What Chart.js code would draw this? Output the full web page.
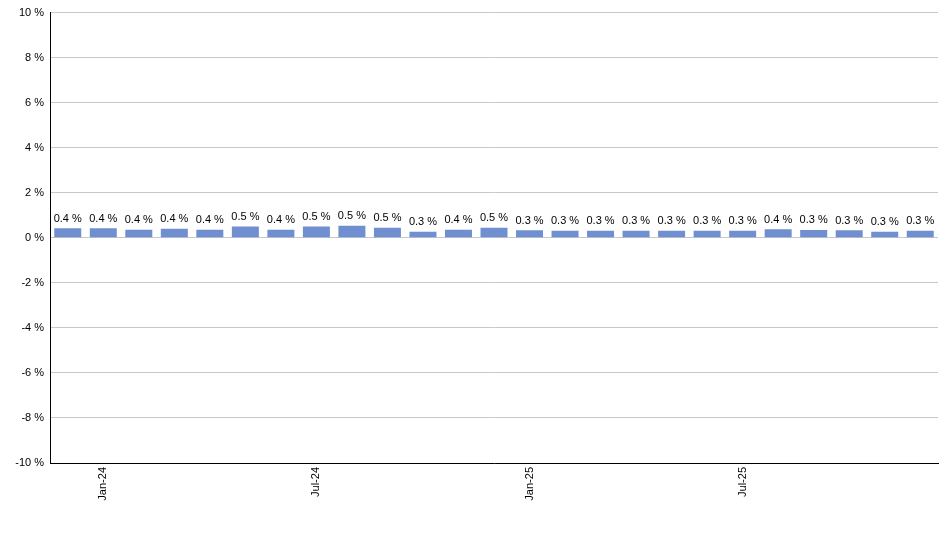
<!DOCTYPE html>
<html>
<head>
<meta charset="utf-8">
<script src="https://cdn.jsdelivr.net/npm/chart.js@4"></script>
<style>
  html, body { margin: 0; padding: 0; background: #fff; }
  #wrap { width: 940px; height: 550px; }
</style>
</head>
<body>
<div id="wrap"><canvas id="chart"></canvas></div>
<script>
const months = ['Dec-23', 'Jan-24', 'Feb-24', 'Mar-24', 'Apr-24', 'May-24', 'Jun-24', 'Jul-24', 'Aug-24', 'Sep-24', 'Oct-24', 'Nov-24', 'Dec-24',
    'Jan-25', 'Feb-25', 'Mar-25', 'Apr-25', 'May-25', 'Jun-25', 'Jul-25', 'Aug-25', 'Sep-25', 'Oct-25', 'Nov-25', 'Dec-25'];
const values = [0.42, 0.42, 0.36, 0.40, 0.36, 0.50, 0.36, 0.50, 0.54, 0.45, 0.27, 0.36, 0.45,
    0.34, 0.31, 0.31, 0.31, 0.31, 0.31, 0.31, 0.38, 0.35, 0.34, 0.27, 0.31];
const shownTicks = ['Jan-24', 'Jul-24', 'Jan-25', 'Jul-25'];

const barLabels = {
    id: 'barLabels',
    afterDatasetsDraw(chart) {
        const ctx = chart.ctx;
        ctx.save();
        ctx.font = '11px Arial, "Liberation Sans"';
        ctx.fillStyle = '#000';
        ctx.textAlign = 'center';
        ctx.textBaseline = 'bottom';
        chart.getDatasetMeta(0).data.forEach((bar, i) => {
            ctx.fillText(values[i].toFixed(1) + ' %', bar.x, bar.y - 4);
        });
        ctx.restore();
    }
};

function barGradient(c) {
    const el = c.element;
    if (!el || el.x === undefined || !el.width) return '#6f8fd0';
    const x0 = el.x - el.width / 2, x1 = el.x + el.width / 2;
    const g = c.chart.ctx.createLinearGradient(x0, 0, x1, 0);
    g.addColorStop(0, '#7f9fe0');
    g.addColorStop(0.25, '#a8c2f2');
    g.addColorStop(1, '#2c3a58');
    return g;
}

new Chart(document.getElementById('chart'), {
    type: 'bar',
    data: {
        labels: months,
        datasets: [{
            data: values,
            backgroundColor: barGradient,
            barPercentage: 0.76,
            categoryPercentage: 1
        }]
    },
    options: {
        responsive: true,
        maintainAspectRatio: false,
        animation: false,
        layout: { padding: { top: 9, right: 2 } },
        plugins: { legend: { display: false }, tooltip: { enabled: false } },
        scales: {
            x: {
                afterFit(s) { s.height = 87; },
                grid: { display: false, drawTicks: false },
                border: { color: '#000' },
                ticks: {
                    autoSkip: false,
                    maxRotation: 90,
                    minRotation: 90,
                    padding: 4,
                    color: '#000',
                    font: { family: 'Arial, "Liberation Sans"', size: 11 },
                    callback(v, i) { return shownTicks.includes(months[i]) ? months[i] : ''; }
                }
            },
            y: {
                min: -10,
                max: 10,
                afterFit(s) { s.width = 50; },
                grid: { color: '#c8c8c8', drawTicks: false },
                border: { color: '#000' },
                ticks: {
                    stepSize: 2,
                    padding: 6,
                    color: '#000',
                    font: { family: 'Arial, "Liberation Sans"', size: 11 },
                    callback: v => v + ' %'
                }
            }
        }
    },
    plugins: [barLabels]
});
</script>
</body>
</html>
